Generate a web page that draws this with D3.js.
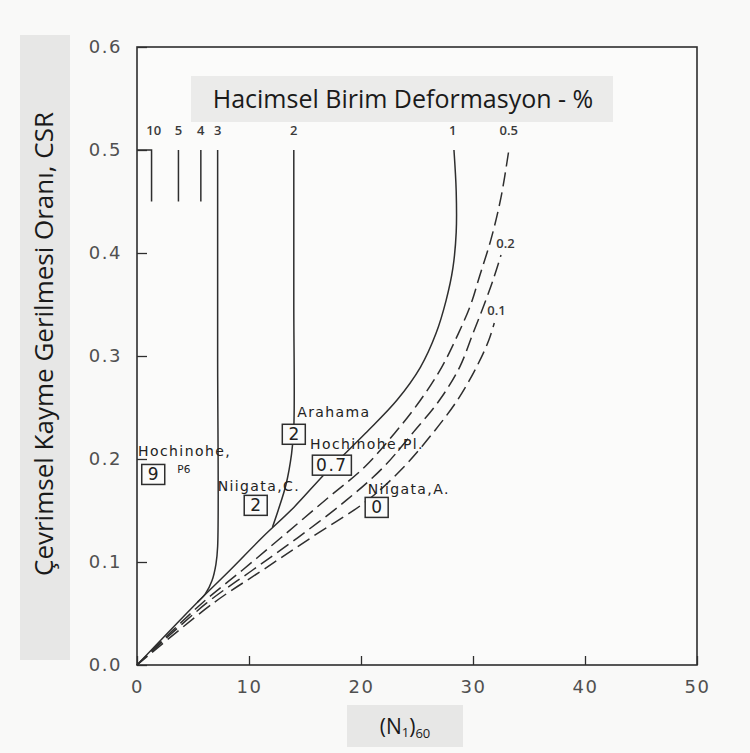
<!DOCTYPE html>
<html><head><meta charset="utf-8">
<script src="https://cdn.jsdelivr.net/npm/d3@7"></script>
<style>
html,body{margin:0;padding:0;background:#f9f9f8;}
svg{display:block;}
</style></head>
<body>
<svg id="chart" width="750" height="753"></svg>
<script>
// ---- data ----
const xTicks = [0, 10, 20, 30, 40, 50];
const yTicks = [0.0, 0.1, 0.2, 0.3, 0.4, 0.5, 0.6];
const curveLabels = ["10", "5", "4", "3", "2", "1", "0.5", "0.2", "0.1"];
const curve10 = [[0, 0.5], [1.3, 0.5], [1.3, 0.45]];
const curve5 = [[3.7, 0.5], [3.7, 0.45]];
const curve4 = [[5.7, 0.5], [5.7, 0.45]];
const curve3 = [[7.2, 0.5], [7.2, 0.3], [7.2, 0.115], [7.05, 0.098], [6.7, 0.082], [6.1, 0.069], [5.4, 0.061]];
const curve2 = [[14.0, 0.5], [14.0, 0.35], [14.0, 0.23], [13.8, 0.205], [13.3, 0.175], [12.6, 0.15], [12.1, 0.134]];
const curve1 = [[0, 0], [5.4, 0.061], [8.3, 0.092], [11.2, 0.124], [14.0, 0.153], [16.8, 0.186], [20.4, 0.225], [23.2, 0.257], [25.3, 0.289], [26.7, 0.322], [27.6, 0.354], [28.2, 0.385], [28.5, 0.42], [28.5, 0.46], [28.3, 0.5]];
const curve05 = [[0, 0], [5.8, 0.06], [9.4, 0.092], [12.9, 0.124], [16.8, 0.16], [20.3, 0.192], [23.0, 0.225], [25.3, 0.257], [27.2, 0.289], [28.7, 0.322], [29.8, 0.35], [30.6, 0.378], [31.6, 0.413], [32.5, 0.454], [33.2, 0.5]];
const curve02 = [[0, 0], [6.2, 0.06], [10.3, 0.092], [14.4, 0.124], [18.7, 0.16], [22.0, 0.192], [24.6, 0.225], [27.0, 0.257], [28.8, 0.289], [30.0, 0.322], [31.0, 0.35], [31.8, 0.374], [32.5, 0.398]];
const curve01 = [[0, 0], [6.8, 0.06], [11.2, 0.092], [15.6, 0.124], [20.6, 0.16], [23.8, 0.192], [26.4, 0.225], [28.6, 0.257], [30.3, 0.289], [31.4, 0.315], [31.9, 0.332]];
const curveLabelPos = [[1.5, 0.518], [3.7, 0.518], [5.7, 0.518], [7.2, 0.518], [14.0, 0.518], [28.2, 0.518], [33.2, 0.518], [32.9, 0.408], [32.1, 0.343]];
const siteNames = ["Arahama", "Hochinohe,Pl.", "Hochinohe,", "Niigata,C.", "Niigata,A."];
const siteNamePos = [[14.3, 0.245], [15.45, 0.214], [0.1, 0.207], [7.2, 0.173], [20.6, 0.170]];
const siteValues = ["2", "0.7", "9", "2", "0"];
const siteValuePos = [[14.0, 0.224], [17.4, 0.194], [1.45, 0.185], [10.6, 0.155], [21.4, 0.153]];
const titleText = "Hacimsel Birim Deformasyon - %";
const yTitle = "Çevrimsel Kayme Gerilmesi Oranı, CSR";
const xTitleMain = "(N", xTitleSub1 = "1", xTitleSub2 = "60";

// ---- layout ----
const svg = d3.select("#chart");
const M = {left: 137, right: 697, top: 47, bottom: 665};
const x = d3.scaleLinear().domain([0, 50]).range([M.left, M.right]);
const y = d3.scaleLinear().domain([0, 0.6]).range([M.bottom, M.top]);
const ink = "#2e2e2e";

// grey label boxes
svg.append("rect").attr("x", 20).attr("y", 35).attr("width", 50).attr("height", 625).attr("fill", "#e7e7e6");
svg.append("rect").attr("x", 347).attr("y", 705).attr("width", 116).attr("height", 42).attr("fill", "#e7e7e6");

// plot frame
svg.append("rect").attr("x", M.left).attr("y", M.top).attr("width", M.right - M.left).attr("height", M.bottom - M.top)
  .attr("fill", "#fbfbfa").attr("stroke", ink).attr("stroke-width", 1.6);

// title box
svg.append("rect").attr("x", 191).attr("y", 76).attr("width", 422).attr("height", 46).attr("fill", "#ebebea");
svg.append("text").attr("x", 403).attr("y", 101).attr("text-anchor", "middle").attr("dominant-baseline", "middle")
  .attr("font-family", "Open Sans").attr("font-size", 25).attr("fill", "#1a1a1a").text(titleText);

// axes
const xAxis = d3.axisBottom(x).tickValues(xTicks).tickSizeInner(-9).tickSizeOuter(0).tickPadding(15).tickFormat(d3.format("d"));
const gx = svg.append("g").attr("transform", `translate(0,${M.bottom})`).call(xAxis);
const yAxis = d3.axisLeft(y).tickValues(yTicks).tickSizeInner(-10).tickSizeOuter(0).tickPadding(15).tickFormat(d3.format(".1f"));
const gy = svg.append("g").attr("transform", `translate(${M.left},0)`).call(yAxis);
[gx, gy].forEach(g => {
  g.select(".domain").remove();
  g.selectAll(".tick line").attr("stroke", ink).attr("stroke-width", 1.3);
  g.selectAll(".tick text").attr("font-family", "DejaVu Sans").attr("font-size", 18).attr("fill", "#505050").attr("letter-spacing", 1.5);
});

// curves
const line = d3.line().x(d => x(d[0])).y(d => y(d[1])).curve(d3.curveCatmullRom.alpha(0.5));
const lineLin = d3.line().x(d => x(d[0])).y(d => y(d[1]));
const curves = [
  {d: curve10, dash: null, lin: true},
  {d: curve5, dash: null, lin: true},
  {d: curve4, dash: null, lin: true},
  {d: curve3, dash: null},
  {d: curve2, dash: null},
  {d: curve1, dash: null},
  {d: curve05, dash: "14,6"},
  {d: curve02, dash: "14,6"},
  {d: curve01, dash: "14,6"}
];
curves.forEach(c => {
  svg.append("path").attr("d", (c.lin ? lineLin : line)(c.d)).attr("fill", "none")
    .attr("stroke", ink).attr("stroke-width", 1.5).attr("stroke-dasharray", c.dash);
});

// curve labels
curveLabels.forEach((t, i) => {
  svg.append("text").attr("x", x(curveLabelPos[i][0])).attr("y", y(curveLabelPos[i][1])).attr("text-anchor", "middle")
    .attr("dominant-baseline", "middle").attr("font-family", "Open Sans").attr("font-weight", 600)
    .attr("font-size", 13).attr("fill", "#3a3a3a").text(t);
});

// site annotations
siteNames.forEach((t, i) => {
  svg.append("text").attr("x", x(siteNamePos[i][0])).attr("y", y(siteNamePos[i][1])).attr("dominant-baseline", "middle")
    .attr("font-family", "DejaVu Sans").attr("font-size", 14).attr("letter-spacing", 1.4).attr("fill", "#222").text(t);
});
svg.append("text").attr("x", x(3.6)).attr("y", y(0.189)).attr("dominant-baseline", "middle")
  .attr("font-family", "DejaVu Sans").attr("font-size", 10.5).attr("fill", "#222").text("P6");
siteValues.forEach((t, i) => {
  const cx = x(siteValuePos[i][0]), cy = y(siteValuePos[i][1]);
  const w = t.length > 1 ? 39 : 23, h = 20;
  svg.append("rect").attr("x", cx - w / 2).attr("y", cy - h / 2).attr("width", w).attr("height", h)
    .attr("fill", "#fbfbfa").attr("stroke", ink).attr("stroke-width", 1.5);
  svg.append("text").attr("x", cx).attr("y", cy + 1).attr("text-anchor", "middle").attr("dominant-baseline", "middle")
    .attr("font-family", "DejaVu Sans").attr("font-size", 17).attr("letter-spacing", t.length > 1 ? 1.5 : 0).attr("fill", "#222").text(t);
});

// axis titles
svg.append("text").attr("transform", "translate(46,344) rotate(-90)").attr("text-anchor", "middle").attr("dominant-baseline", "middle")
  .attr("font-family", "Open Sans").attr("font-size", 26).attr("fill", "#1a1a1a").text(yTitle);
const xt = svg.append("text").attr("x", 405).attr("y", 734).attr("text-anchor", "middle")
  .attr("font-family", "Open Sans").attr("font-size", 21).attr("fill", "#1a1a1a");
xt.append("tspan").text(xTitleMain);
xt.append("tspan").attr("font-size", 13).attr("dy", 3).text(xTitleSub1);
xt.append("tspan").attr("dy", -3).text(")");
xt.append("tspan").attr("font-size", 13).attr("dy", 4).text(xTitleSub2);
</script>
</body></html>
